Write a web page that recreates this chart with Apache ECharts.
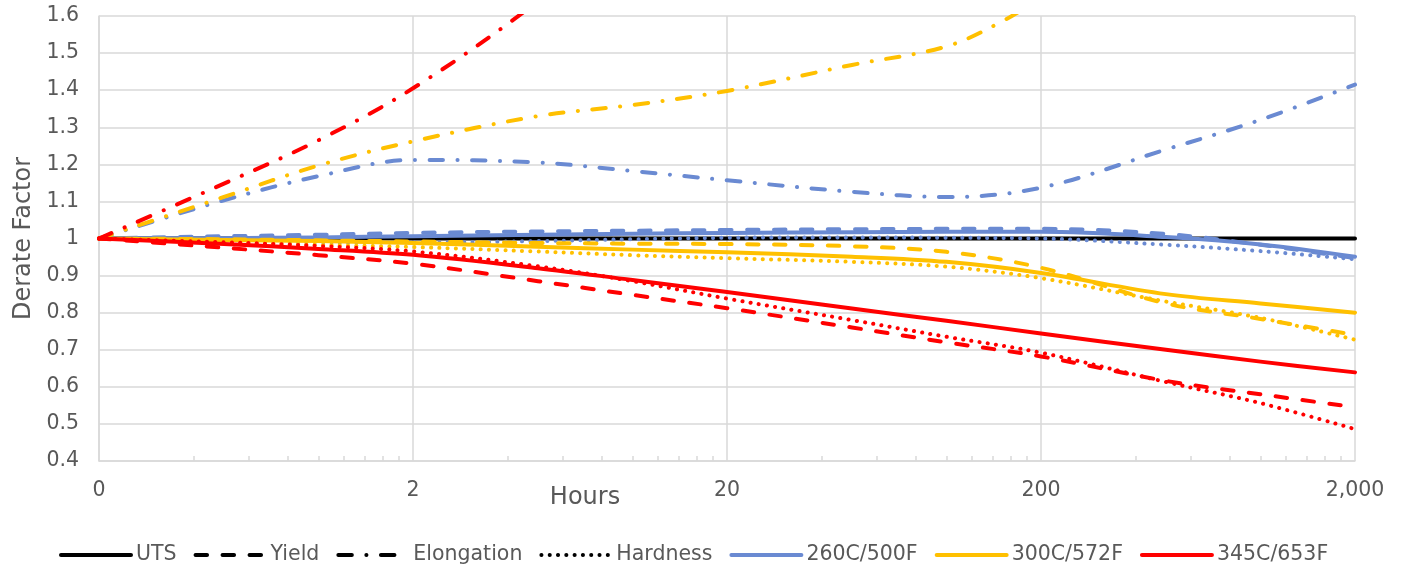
<!DOCTYPE html>
<html><head><meta charset="utf-8">
<script src="https://cdn.jsdelivr.net/npm/echarts@6/dist/echarts.min.js"></script>
<style>html,body{margin:0;padding:0;background:#fff}#c{width:1402px;height:567px}</style>
</head><body><div id="c"></div>
<script>
// ---- data ----
const hours = [0.2, 0.5, 1, 2, 5, 10, 20, 50, 100, 200, 500, 1000, 2000];
const hoursElong300 = [0.2, 0.5, 1, 2, 5, 10, 20, 50, 100, 150, 200, 300];
const xTickHours = [0.2, 2, 20, 200, 2000];
const xTickLabels = ['0', '2', '20', '200', '2,000'];
const minorMultipliers = [2, 3, 4, 5, 6, 7, 8, 9];
const yMin = 0.4, yMax = 1.6, yStep = 0.1;

const legendNames = ['UTS', 'Yield', 'Elongation', 'Hardness', '260C/500F', '300C/572F', '345C/653F'];

const refUTS      = [1, 1, 1, 1, 1, 1, 1, 1, 1, 1, 1, 1, 1];

const t260_uts   = [1.0, 1.001, 1.003, 1.006, 1.010, 1.013, 1.015, 1.017, 1.018, 1.018, 1.004, 0.984, 0.951];
const t260_yield = [1.0, 1.006, 1.010, 1.015, 1.019, 1.021, 1.023, 1.025, 1.026, 1.026, 1.012, 0.983, 0.947];
const t260_elong = [1.0, 1.103, 1.168, 1.212, 1.205, 1.182, 1.157, 1.126, 1.112, 1.137, 1.240, 1.320, 1.415];
const t260_hard  = [1.0, 0.994, 0.990, 0.989, 0.993, 0.998, 1.002, 1.003, 1.002, 1.000, 0.983, 0.966, 0.944];

const t300_uts   = [1.0, 0.996, 0.993, 0.988, 0.978, 0.970, 0.963, 0.951, 0.937, 0.907, 0.850, 0.825, 0.800];
const t300_yield = [1.0, 0.998, 0.995, 0.992, 0.988, 0.986, 0.985, 0.979, 0.964, 0.921, 0.825, 0.783, 0.740];
const t300_elong = [1.0, 1.112, 1.197, 1.262, 1.330, 1.360, 1.398, 1.468, 1.518, 1.585, 1.650, 1.750];
const t300_hard  = [1.0, 0.990, 0.983, 0.977, 0.965, 0.955, 0.947, 0.937, 0.924, 0.893, 0.830, 0.786, 0.727];

const t345_uts   = [1.0, 0.985, 0.972, 0.956, 0.920, 0.888, 0.856, 0.811, 0.778, 0.744, 0.700, 0.668, 0.639];
const t345_yield = [1.0, 0.975, 0.955, 0.932, 0.885, 0.848, 0.812, 0.760, 0.720, 0.682, 0.616, 0.580, 0.545];
const t345_elong = [1.0, 1.148, 1.265, 1.405, 1.640, 1.860];
const t345_hard  = [1.0, 0.990, 0.980, 0.965, 0.925, 0.885, 0.838, 0.780, 0.735, 0.692, 0.613, 0.556, 0.486];

// ---- styling ----
const C260 = '#6A8AD2', C300 = '#FFC000', C345 = '#FF0000', CBLK = '#000000';
const TXT = '#595959', GRID = '#d9d9d9';
const FONT = 'DejaVu Sans';
const LW = 4;
const DASH = {
  solid: 'solid',
  dashed: [11.5, 15.5],
  dashdot: [13.5, 14.5, 0.1, 14.5],
  dotted: [0.1, 8.2]
};

// log transform of hours onto a linear axis: u = log10(h / first tick)
const base = xTickHours[0];
const toU = h => Math.log10(h / base);
const uMax = toU(xTickHours[xTickHours.length - 1]);
const minorU = [];
xTickHours.slice(0, -1).forEach(d => minorMultipliers.forEach(m => minorU.push(toU(d * m))));

function pts(vals, hrs) {
  const hh = hrs || hours;
  return vals.map((v, i) => [toU(hh[i]), v]);
}
function line(name, vals, color, dash, z, hrs) {
  return {
    name, type: 'line', data: pts(vals, hrs), xAxisIndex: 0, yAxisIndex: 0,
    smooth: 0.35, showSymbol: false, symbol: 'none', connectNulls: false,
    clip: true, z: z || 2, silent: true,
    lineStyle: { color, width: LW, type: DASH[dash], cap: 'round', join: 'round' },
    itemStyle: { color }
  };
}

const series = [
  line('UTS', refUTS, CBLK, 'solid', 1),
  line('Yield', [], CBLK, 'dashed', 1),
  line('Elongation', [], CBLK, 'dashdot', 1),
  line('Hardness', [], CBLK, 'dotted', 1),
  line('260C/500F', t260_uts, C260, 'solid', 2),
  line('260 Yield', t260_yield, C260, 'dashed', 2),
  line('260 Elongation', t260_elong, C260, 'dashdot', 2),
  line('260 Hardness', t260_hard, C260, 'dotted', 2),
  line('300C/572F', t300_uts, C300, 'solid', 3),
  line('300 Yield', t300_yield, C300, 'dashed', 3),
  line('300 Elongation', t300_elong, C300, 'dashdot', 3, hoursElong300),
  line('300 Hardness', t300_hard, C300, 'dotted', 3),
  line('345C/653F', t345_uts, C345, 'solid', 4),
  line('345 Yield', t345_yield, C345, 'dashed', 4),
  line('345 Elongation', t345_elong, C345, 'dashdot', 4),
  line('345 Hardness', t345_hard, C345, 'dotted', 4)
];

const chart = echarts.init(document.getElementById('c'), null, { renderer: 'canvas' });
chart.setOption({
  animation: false,
  backgroundColor: '#ffffff',
  textStyle: { fontFamily: FONT },
  grid: { left: 99, right: 47, top: 16, bottom: 106, containLabel: false, outerBoundsMode: 'none' },
  xAxis: [{
    type: 'value', min: 0, max: uMax, interval: 1,
    axisLine: { show: true, lineStyle: { color: GRID, width: 1.5 } },
    axisTick: { show: false },
    splitLine: { show: true, lineStyle: { color: GRID, width: 1.5 } },
    axisLabel: {
      margin: 19, color: TXT, fontSize: 20.5, fontFamily: FONT,
      formatter: v => {
        const i = xTickHours.findIndex(h => Math.abs(toU(h) - v) < 1e-6);
        return i >= 0 ? xTickLabels[i] : '';
      }
    }
  }, {
    type: 'value', min: 0, max: uMax, position: 'bottom', gridIndex: 0,
    axisLine: { show: false },
    axisLabel: { show: false },
    splitLine: { show: false },
    axisTick: { show: true, inside: true, length: 5, customValues: minorU, lineStyle: { color: GRID, width: 1.5 } }
  }],
  yAxis: {
    type: 'value', min: yMin, max: yMax, interval: yStep,
    name: 'Derate Factor', nameLocation: 'middle', nameGap: 62,
    nameTextStyle: { color: TXT, fontSize: 24, fontFamily: FONT },
    axisLine: { show: true, lineStyle: { color: GRID, width: 1.5 } },
    axisTick: { show: false },
    splitLine: { show: true, lineStyle: { color: GRID, width: 1.5 } },
    axisLabel: { margin: 20, color: TXT, fontSize: 20.5, fontFamily: FONT,
      formatter: v => String(parseFloat(v.toFixed(1))) }
  },
  legend: {
    data: legendNames, left: 54, top: 538, orient: 'horizontal',
    itemWidth: 70, itemHeight: 12, itemGap: 17,
    itemStyle: { opacity: 0, color: 'rgba(0,0,0,0)', borderWidth: 0 },
    lineStyle: { width: 4 },
    textStyle: { color: TXT, fontSize: 20.5, fontFamily: FONT, lineHeight: 24 },
    selectedMode: false
  },
  graphic: [{
    type: 'text', x: 585, y: 498,
    style: { text: 'Hours', fill: TXT, fontSize: 24, fontFamily: FONT, textAlign: 'center', textVerticalAlign: 'middle' }
  }],
  series
});
</script></body></html>
